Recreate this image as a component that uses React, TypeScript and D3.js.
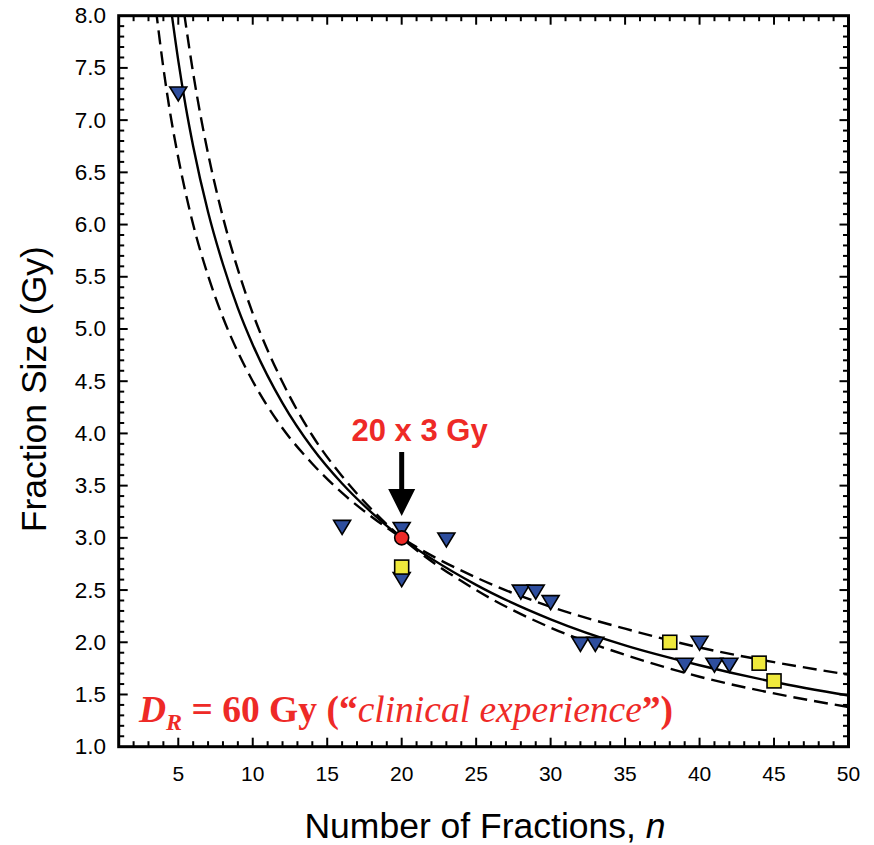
import React from "react";
import * as d3 from "d3";

// Curve points (n, fraction size)
const solidN = [4.5, 5, 5.5, 6, 7, 8, 9, 10, 12, 14, 16, 18, 20, 25, 30, 35, 40, 45, 50];
const solidD = [8.08, 7.57, 7.13, 6.75, 6.12, 5.62, 5.2, 4.85, 4.29, 3.86, 3.52, 3.24, 3.0, 2.55, 2.22, 1.97, 1.78, 1.62, 1.49];
const upperN = [3.5, 4, 4.5, 5, 5.5, 6, 7, 8, 9, 10, 12, 14, 16, 18, 20, 25, 30, 35, 40, 45, 50];
const upperD = [8.06, 7.5, 7.03, 6.64, 6.3, 6.0, 5.51, 5.11, 4.78, 4.5, 4.05, 3.71, 3.43, 3.2, 3.0, 2.62, 2.34, 2.13, 1.95, 1.81, 1.69];
const lowerN = [5.4, 6, 6.5, 7, 8, 9, 10, 12, 14, 16, 18, 20, 25, 30, 35, 40, 45, 50];
const lowerD = [8.02, 7.45, 7.04, 6.68, 6.07, 5.57, 5.15, 4.49, 3.98, 3.59, 3.27, 3.0, 2.5, 2.14, 1.88, 1.67, 1.51, 1.38];

// Observed data
const triN = [5, 16, 20, 20, 23, 28, 29, 30, 32, 33, 39, 40, 41, 42];
const triD = [7.25, 3.1, 3.08, 2.6, 2.98, 2.48, 2.48, 2.38, 1.98, 1.98, 1.78, 1.99, 1.78, 1.78];
const sqN = [20, 38, 44, 45];
const sqD = [2.72, 2.0, 1.8, 1.63];
const refN = [20];
const refD = [3.0];

const xTicks = [5, 10, 15, 20, 25, 30, 35, 40, 45, 50];
const yTicks = [1.0, 1.5, 2.0, 2.5, 3.0, 3.5, 4.0, 4.5, 5.0, 5.5, 6.0, 6.5, 7.0, 7.5, 8.0];

const W = 874, H = 845;
const L = 118.7, R = 848.5, T = 15.7, B = 746.7;

export default function App() {
  const x = d3.scaleLinear().domain([1, 50]).range([L, R]);
  const y = d3.scaleLinear().domain([1, 8]).range([B, T]);
  const line = d3.line<[number, number]>().x(d => x(d[0])).y(d => y(d[1])).curve(d3.curveMonotoneX);
  const zip = (a: number[], b: number[]) => a.map((v, i) => [v, b[i]] as [number, number]);

  const xMinor = d3.range(2, 50, 1);
  const yMinor = d3.range(11, 80, 1).map(v => v / 10);
  const red = "#EE2A27";
  const blue = "#2E4E9E";
  const yellow = "#EFE93C";

  return (
    <svg width={W} height={H} style={{ position: "absolute", left: 0, top: 0, background: "#fff" }}>
      <defs>
        <clipPath id="plot"><rect x={L} y={T} width={R - L} height={B - T} /></clipPath>
      </defs>
      {/* curves */}
      <g clipPath="url(#plot)" fill="none" stroke="#000" strokeWidth={2.4}>
        <path d={line(zip(solidN, solidD)) || ""} />
        <path d={line(zip(upperN, upperD)) || ""} strokeDasharray="14,7" />
        <path d={line(zip(lowerN, lowerD)) || ""} strokeDasharray="14,7" />
      </g>
      {/* ticks */}
      <g stroke="#000" strokeWidth={2}>
        {xMinor.map(v => {
          const len = v % 5 === 0 ? 9 : 5.5;
          return (
            <g key={"xt" + v}>
              <line x1={x(v)} x2={x(v)} y1={B} y2={B - len} />
              <line x1={x(v)} x2={x(v)} y1={T} y2={T + len} />
            </g>
          );
        })}
        {yMinor.map(v => {
          const major = Math.abs(v * 2 - Math.round(v * 2)) < 1e-6;
          const len = major ? 9 : 5.5;
          return (
            <g key={"yt" + v}>
              <line x1={L} x2={L + len} y1={y(v)} y2={y(v)} />
              <line x1={R} x2={R - len} y1={y(v)} y2={y(v)} />
            </g>
          );
        })}
      </g>
      <rect x={L} y={T} width={R - L} height={B - T} fill="none" stroke="#000" strokeWidth={3} />
      {/* tick labels */}
      <g fontFamily="Liberation Sans, Arial, sans-serif" fontSize={21} fill="#000">
        {xTicks.map(v => (
          <text key={"xl" + v} x={x(v)} y={781} textAnchor="middle">{v}</text>
        ))}
        {yTicks.map(v => (
          <text key={"yl" + v} x={106} y={y(v)} textAnchor="end" dominantBaseline="central" fontSize={22.5}>
            {v.toFixed(1)}
          </text>
        ))}
      </g>
      {/* axis titles */}
      <text x={485} y={838} textAnchor="middle" fontFamily="Liberation Sans, Arial, sans-serif" fontSize={35.5}>
        Number of Fractions, <tspan fontStyle="italic">n</tspan>
      </text>
      <text
        transform={`translate(46,${(T + B) / 2 + 8}) rotate(-90)`}
        textAnchor="middle"
        fontFamily="Liberation Sans, Arial, sans-serif"
        fontSize={35.5}
      >
        Fraction Size (Gy)
      </text>
      {/* markers */}
      <g stroke="#000" strokeWidth={1.6}>
        {zip(triN, triD).map(([n, d], i) => {
          const cx = x(n), cy = y(d);
          return (
            <path key={"tri" + i} d={`M${cx - 8.5},${cy - 7}L${cx + 8.5},${cy - 7}L${cx},${cy + 7}Z`} fill={blue} />
          );
        })}
        {zip(sqN, sqD).map(([n, d], i) => (
          <rect key={"sq" + i} x={x(n) - 7} y={y(d) - 7} width={14} height={14} fill={yellow} />
        ))}
        {zip(refN, refD).map(([n, d], i) => (
          <circle key={"c" + i} cx={x(n)} cy={y(d)} r={7} fill={red} />
        ))}
      </g>
      {/* annotation */}
      <text x={351.5} y={441} fontFamily="Liberation Sans, Arial, sans-serif" fontWeight="bold" fontSize={31} fill={red}>
        20 x 3 Gy
      </text>
      <line x1={x(20)} x2={x(20)} y1={452} y2={495} stroke="#000" strokeWidth={5} />
      <path d={`M${x(20) - 13.5},${489}L${x(20) + 13.5},${489}L${x(20)},${516}Z`} fill="#000" />
      <text x={139} y={721.7} fontFamily="Liberation Serif, Times New Roman, serif" fontSize={37.5} fill={red} fontWeight="bold">
        <tspan fontStyle="italic">D</tspan>
        <tspan fontStyle="italic" fontSize={24} dy={8}>R</tspan>
        <tspan dy={-8}> = 60 Gy (“</tspan>
        <tspan fontStyle="italic" fontWeight="normal">clinical experience</tspan>
        <tspan>”)</tspan>
      </text>
    </svg>
  );
}
